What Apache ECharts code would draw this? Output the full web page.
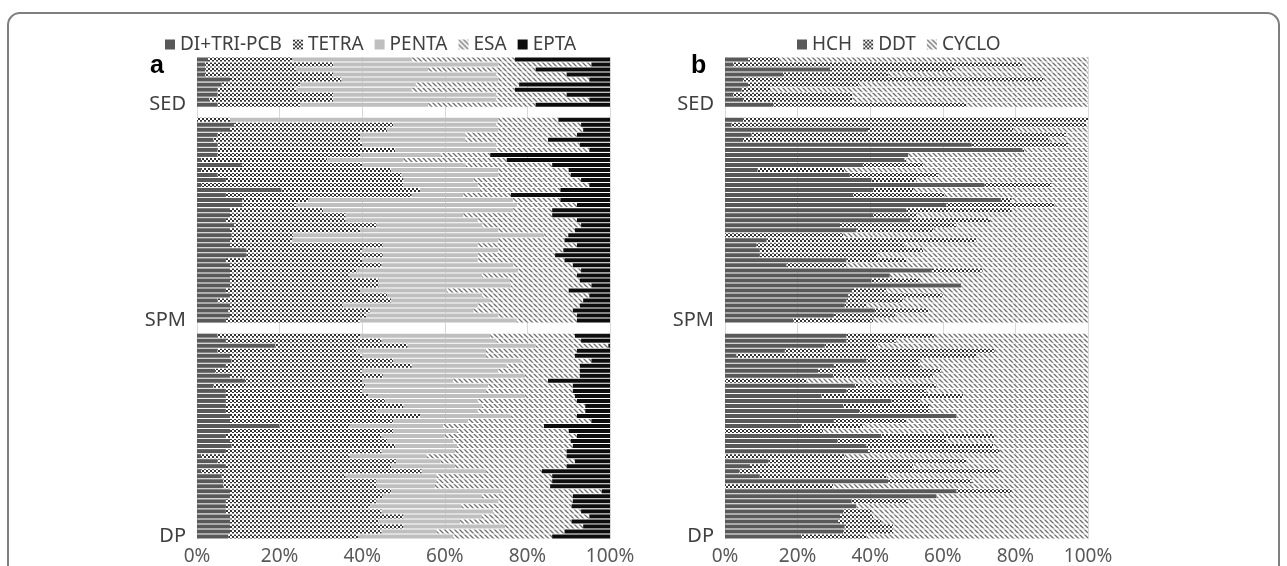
<!DOCTYPE html>
<html>
<head>
<meta charset="utf-8">
<script src="https://cdn.jsdelivr.net/npm/echarts@6/dist/echarts.min.js"></script>
<style>
  html, body { margin: 0; background: #fff; }
  #chart { width: 1287px; height: 566px; }
</style>
</head>
<body>
<div id="chart"></div>
<script>
// group labels and legend names
var groupNames = ['SED', 'SPM', 'DP'];
var pcbNames = ['DI+TRI-PCB', 'TETRA', 'PENTA', 'ESA', 'EPTA'];
var ocNames = ['HCH', 'DDT', 'CYCLO'];
var xTicks = [0, 20, 40, 60, 80, 100];

// panel a: cumulative % where DI+TRI, TETRA, PENTA, ESA end (EPTA fills to 100)
var pcbSED = [
  [2.7, 23, 52, 77], [2, 33, 73, 95.5], [2, 24, 56, 82], [2, 33, 72.5, 89.5],
  [8, 35, 73, 95], [6, 25, 53, 78], [5, 24, 52, 77], [5, 33, 72.5, 89.5],
  [3, 33, 72.5, 95], [5, 25, 56, 82]
];
var pcbSPM = [
  [0, 8, 73, 87.5], [9, 47.5, 72.5, 93], [8, 46, 73, 93.5], [5, 39.5, 65, 92],
  [4, 39.5, 65, 85], [5, 40, 72.5, 92.7], [5, 48, 72.5, 95], [5, 39.5, 59, 71],
  [1, 31.5, 50, 75], [11, 40, 65, 86], [1, 47, 73, 90], [5, 49.5, 73, 90.5],
  [7, 50, 67, 93], [1, 50, 68, 95], [20.5, 54, 68.5, 88], [7, 52, 64.5, 76],
  [11, 27, 76.5, 88], [11, 24, 77.5, 92], [8, 30.5, 76.5, 86], [8, 36, 64.5, 86],
  [7, 36, 68, 92], [9, 43.5, 69, 93], [8, 39.5, 73, 91.5], [8.4, 23.3, 84, 89.9],
  [8, 23, 73, 89], [8, 45, 68, 92], [12, 40, 73, 88.7], [12, 45, 68, 86.7],
  [7, 40, 68, 89], [8, 44.7, 76.6, 91], [8, 38.7, 77.8, 93], [8, 37, 69, 92],
  [8, 44, 75.8, 92.7], [8, 44, 76, 95.5], [7, 39.5, 60.5, 90], [8, 46, 69, 95],
  [5, 47, 71, 93.5], [8, 35.4, 68, 92.7], [7.6, 42, 67, 91], [8, 41, 73, 92],
  [7, 39.5, 77.4, 92]
];
var pcbDP = [
  [5, 39.5, 71, 91.5], [7, 44.7, 72.5, 93], [19, 51, 82, 99.6], [5, 38.7, 70, 92],
  [8, 40, 70, 91.5], [8.4, 47.5, 78.6, 95.5], [7, 52, 75, 92.7], [4.4, 40, 73, 92.7],
  [8, 45, 79.4, 92.7], [11.6, 40, 62, 85], [4, 40.7, 70.5, 91], [7, 40, 70, 91],
  [7, 41.5, 79.4, 91.5], [7, 45.5, 68, 92], [7, 50, 69, 94], [7, 43.5, 68, 94],
  [8, 54, 76, 92], [8, 47.5, 65.7, 95.5], [20, 37, 59.6, 84], [8, 47.5, 63, 90],
  [7, 44.7, 60, 92], [8, 46, 62, 90.5], [8.4, 48, 63, 91], [7, 44.7, 62.5, 89.5],
  [1, 37, 55.6, 89.5], [5, 48.3, 59, 91.5], [7, 47, 62.5, 89.5], [1, 54.4, 70, 83.5],
  [6, 36, 58, 86], [6.4, 43.5, 58, 86], [6.4, 43.5, 57.6, 85.5], [8, 47, 73.8, 98],
  [8, 45, 69, 91], [7, 43.5, 73, 91], [7, 42, 64, 90.7], [7, 44.7, 71.7, 93],
  [8, 50, 69, 95], [8, 44, 63.7, 90.7], [8, 50, 74.6, 93.5], [8, 44.7, 58, 89],
  [7.6, 39, 62, 86]
];

// panel b: cumulative % where HCH and DDT end (CYCLO fills to 100)
var ocSED = [
  [6.4, 15], [2.3, 82], [29, 63], [16, 45], [5, 87.6],
  [6.4, 37], [4.6, 12.4], [2.3, 35], [5, 35], [13.3, 66.5]
];
var ocSPM = [
  [5, 100], [1.8, 99.5], [39.4, 79.4], [7.3, 94], [5, 89.4], [68, 94.5],
  [82, 82.5], [50.5, 50.5], [49.5, 50], [38, 54.6], [9, 33], [34.4, 58.7],
  [40.4, 52.8], [71.5, 90], [40.8, 51.8], [35.3, 60.5], [76, 79], [61, 90.8],
  [50, 79], [40.8, 53], [51, 73], [31.7, 63.8], [36.2, 57.3], [0, 32.6],
  [11.5, 69.3], [8.7, 49.5], [9.6, 54.6], [9.6, 42], [33.5, 50], [17, 33.5],
  [57, 71], [45.4, 45.4], [40.4, 53.7], [65, 65], [35, 44.5], [34, 60],
  [33.5, 49], [33, 39], [41.3, 56], [30, 47], [18.8, 40.8]
];
var ocDP = [
  [33.5, 57.8], [33.5, 47.2], [27.5, 42], [16.5, 74.3], [3.2, 69.3], [39, 53.7],
  [30, 53.7], [25.7, 59.6], [29.8, 57.3], [0, 22.5], [35.8, 58.3], [33.5, 55.5],
  [26.6, 65.6], [45.9, 53.7], [32.6, 56.4], [37, 56.4], [63.8, 63.8], [30, 50],
  [21, 38], [0, 27], [43, 74.3], [31, 61], [39, 73.9], [39.4, 75.7],
  [0, 33], [12, 66.5], [6.9, 51.8], [4, 75.7], [9.6, 44.5], [45, 68],
  [0, 29.8], [63.8, 79], [58.3, 58.3], [34.9, 50.5], [36.2, 36.2], [32.6, 40.4],
  [31.7, 40.8], [31.2, 43], [33, 46.3], [32.6, 46.3], [21, 39]
];

var BLANK_ROWS = 2;

// stack groups top to bottom with blank rows between, label on last row of a group
function buildRows(groups) {
  var rows = [], labels = [];
  groups.forEach(function (g, gi) {
    if (gi > 0) {
      for (var b = 0; b < BLANK_ROWS; b++) { rows.push(null); labels.push(''); }
    }
    g.forEach(function (r, ri) {
      rows.push(r);
      labels.push(ri === g.length - 1 ? groupNames[gi] : '');
    });
  });
  return {rows: rows, labels: labels};
}

function toSeriesData(rows, n) {
  var out = [];
  for (var k = 0; k < n; k++) out.push([]);
  rows.forEach(function (r) {
    for (var k = 0; k < n; k++) {
      if (!r) { out[k].push('-'); continue; }
      var lo = k === 0 ? 0 : r[k - 1];
      var hi = k < r.length ? r[k] : 100;
      out[k].push(Math.round((hi - lo) * 10) / 10);
    }
  });
  return out;
}

function patternFill(size, draw) {
  var c = document.createElement('canvas');
  c.width = size; c.height = size;
  var ctx = c.getContext('2d');
  ctx.fillStyle = '#fff';
  ctx.fillRect(0, 0, size, size);
  draw(ctx, size);
  return {image: c, repeat: 'repeat'};
}

var dotFill = patternFill(4, function (ctx) {
  ctx.fillStyle = '#333';
  ctx.fillRect(0, 0, 2, 2);
  ctx.fillRect(2, 2, 2, 2);
});
var stripeFill = patternFill(5, function (ctx, s) {
  ctx.strokeStyle = '#6e6e6e';
  ctx.lineWidth = 1.3;
  ctx.beginPath();
  ctx.moveTo(-1, -1); ctx.lineTo(s + 1, s + 1);
  ctx.moveTo(-1, s - 1); ctx.lineTo(1, s + 1);
  ctx.moveTo(s - 1, -1); ctx.lineTo(s + 1, 1);
  ctx.stroke();
});

var pcbFills = ['#595959', dotFill, '#bfbfbf', stripeFill, '#0d0d0d'];
var ocFills = ['#595959', dotFill, stripeFill];

var left = buildRows([pcbSED, pcbSPM, pcbDP]);
var right = buildRows([ocSED, ocSPM, ocDP]);
var rowIds = left.rows.map(function (r, i) { return 'r' + i; });
var pcbData = toSeriesData(left.rows, pcbNames.length);
var ocData = toSeriesData(right.rows, ocNames.length);

var FONT = 'Noto Sans';

function valueAxis(idx) {
  return {
    type: 'value', gridIndex: idx, min: 0, max: 100, interval: 20,
    axisLine: {show: false}, axisTick: {show: false},
    splitLine: {lineStyle: {color: '#d9d9d9', width: 1}},
    axisLabel: {
      fontFamily: FONT, fontSize: 19, color: '#595959', margin: 8,
      formatter: function (v) { return xTicks.indexOf(v) >= 0 ? v + '%' : ''; }
    }
  };
}

function catAxis(idx, labels) {
  return {
    type: 'category', gridIndex: idx, data: rowIds, inverse: true,
    axisLine: {show: false}, axisTick: {show: false},
    axisLabel: {
      interval: 0, fontFamily: FONT, fontSize: 20, color: '#404040', margin: 11,
      formatter: function (v, i) { return labels[i]; }
    }
  };
}

function makeSeries(names, fills, data, axisIdx, stack) {
  return names.map(function (n, k) {
    return {
      name: n, type: 'bar', stack: stack,
      xAxisIndex: axisIdx, yAxisIndex: axisIdx,
      barCategoryGap: '20%',
      itemStyle: {color: fills[k]},
      emphasis: {disabled: true},
      data: data[k]
    };
  });
}

var chart = echarts.init(document.getElementById('chart'));
chart.setOption({
  animation: false,
  backgroundColor: '#fff',
  grid: [
    {left: 197, width: 413, top: 57, bottom: 26},
    {left: 725, width: 363, top: 57, bottom: 26}
  ],
  legend: [
    {
      data: pcbNames, left: 160, top: 30, icon: 'rect', itemWidth: 10, itemHeight: 10,
      itemGap: 11, textStyle: {fontFamily: FONT, fontSize: 19, color: '#404040'}
    },
    {
      data: ocNames, left: 792, top: 30, icon: 'rect', itemWidth: 10, itemHeight: 10,
      itemGap: 11, textStyle: {fontFamily: FONT, fontSize: 19, color: '#404040'}
    }
  ],
  xAxis: [valueAxis(0), valueAxis(1)],
  yAxis: [catAxis(0, left.labels), catAxis(1, right.labels)],
  series: makeSeries(pcbNames, pcbFills, pcbData, 0, 'pcb')
    .concat(makeSeries(ocNames, ocFills, ocData, 1, 'oc')),
  graphic: [
    {
      type: 'rect', silent: true,
      shape: {x: 8, y: 13, width: 1271, height: 600, r: 12},
      style: {fill: 'none', stroke: '#7f7f7f', lineWidth: 2}
    },
    {
      type: 'text', left: 150, top: 54,
      style: {text: 'a', font: 'bold 25px "Liberation Sans"', fill: '#000'}
    },
    {
      type: 'text', left: 691, top: 54,
      style: {text: 'b', font: 'bold 25px "Liberation Sans"', fill: '#000'}
    }
  ]
});
</script>
</body>
</html>
